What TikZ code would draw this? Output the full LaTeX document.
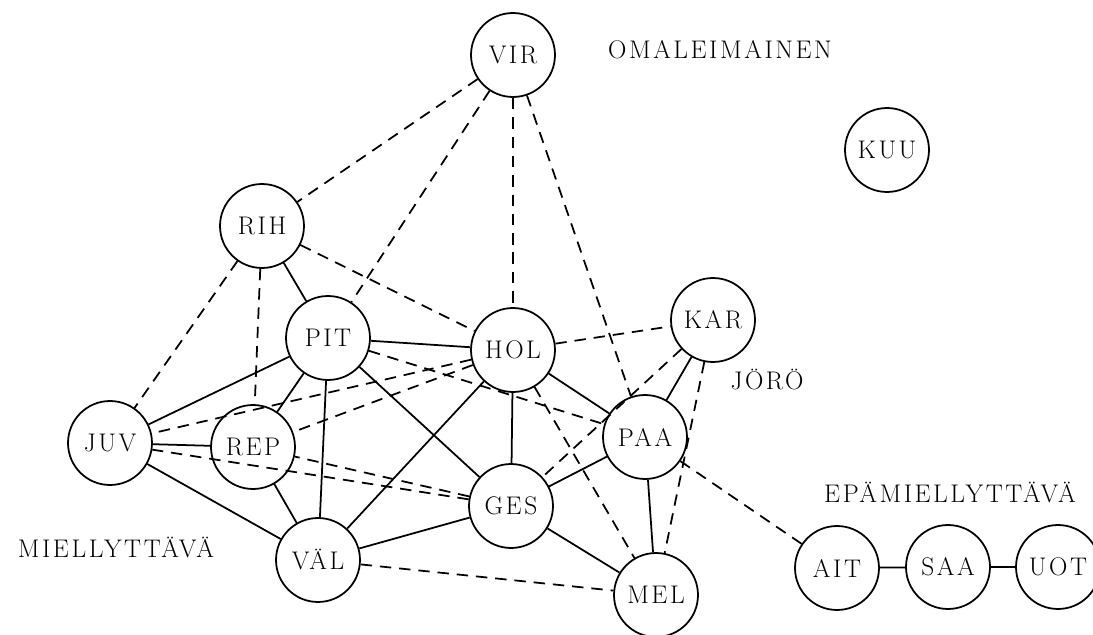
\documentclass[tikz,border=0pt]{standalone}
\usepackage{fontspec}
\usepackage{tikz}
\newfontfamily\sosfont{Latin Modern Roman}[LetterSpace=10]

\begin{document}
\begin{tikzpicture}[x=0.02cm, y=-0.02cm, line width=1pt,
	every node/.style={font=\sosfont\fontsize{14.5}{16}\selectfont},
	pers/.style={circle, draw, minimum size=1.68cm, inner sep=0pt},
	neg/.style={dash pattern=on 6.5pt off 4.5pt}]
	\useasboundingbox (0,0) rectangle (1093,635);
	% persons
	\node[pers] (vir) at (513,55) {VIR};
	\node[pers] (kuu) at (887,150) {KUU};
	\node[pers] (rih) at (262,226) {RIH};
	\node[pers] (pit) at (328,338) {PIT};
	\node[pers] (hol) at (513,350) {HOL};
	\node[pers] (kar) at (713,320) {KAR};
	\node[pers] (juv) at (110,443) {JUV};
	\node[pers] (rep) at (253,447) {REP};
	\node[pers] (paa) at (645,437) {PAA};
	\node[pers] (ges) at (511,506) {GES};
	\node[pers] (val) at (318,560) {VÄL};
	\node[pers] (mel) at (656,595) {MEL};
	\node[pers] (ait) at (837,568) {AIT};
	\node[pers] (saa) at (948,567) {SAA};
	\node[pers] (uot) at (1058,567) {UOT};
	% groups
	\node (oma) at (720,50) {OMALEIMAINEN};
	\node (joro) at (767,380) {JÖRÖ};
	\node (epa) at (950,493) {EPÄMIELLYTTÄVÄ};
	\node (miel) at (116,548) {MIELLYTTÄVÄ};
	% liked
	\draw (rih) -- (pit);
	\draw (pit) -- (hol);
	\draw (pit) -- (juv);
	\draw (pit) -- (rep);
	\draw (pit) -- (val);
	\draw (pit) -- (ges);
	\draw (hol) -- (val);
	\draw (hol) -- (ges);
	\draw (hol) -- (paa);
	\draw (kar) -- (paa);
	\draw (paa) -- (ges);
	\draw (paa) -- (mel);
	\draw (ges) -- (mel);
	\draw (ges) -- (val);
	\draw (juv) -- (rep);
	\draw (juv) -- (val);
	\draw (rep) -- (val);
	\draw (ait) -- (saa);
	\draw (saa) -- (uot);
	% disliked
	\draw[neg] (vir) -- (rih);
	\draw[neg] (vir) -- (pit);
	\draw[neg] (vir) -- (hol);
	\draw[neg] (vir) -- (paa);
	\draw[neg] (rih) -- (hol);
	\draw[neg] (rih) -- (juv);
	\draw[neg] (rih) -- (rep);
	\draw[neg] (pit) -- (paa);
	\draw[neg] (hol) -- (juv);
	\draw[neg] (hol) -- (rep);
	\draw[neg] (hol) -- (kar);
	\draw[neg] (hol) -- (mel);
	\draw[neg] (kar) -- (ges);
	\draw[neg] (kar) -- (mel);
	\draw[neg] (paa) -- (ait);
	\draw[neg] (ges) -- (juv);
	\draw[neg] (ges) -- (rep);
	\draw[neg] (val) -- (mel);
\end{tikzpicture}
\end{document}
